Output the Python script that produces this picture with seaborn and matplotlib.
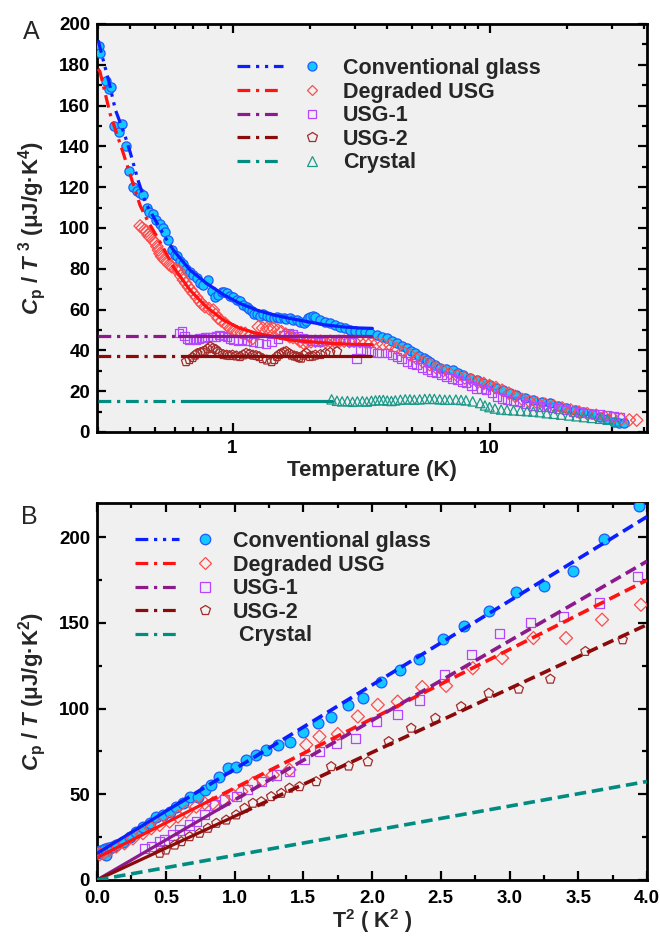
import matplotlib
matplotlib.use('Agg')
import matplotlib.pyplot as plt
import seaborn as sns
from matplotlib.lines import Line2D
from matplotlib.legend_handler import HandlerTuple
from matplotlib.ticker import FixedLocator, FuncFormatter, NullFormatter, MultipleLocator, LogLocator

# ---------------- Panel A data: Cp/T^3 vs T ----------------
conv_T = [0.303, 0.306, 0.322, 0.330, 0.337, 0.345, 0.362, 0.370, 0.386, 0.397, 0.409, 0.425, 0.436, 0.45,
          0.463, 0.475, 0.49, 0.505, 0.522, 0.535, 0.546, 0.563, 0.58, 0.595, 0.607, 0.625, 0.644, 0.66,
          0.683, 0.70, 0.725, 0.747, 0.77, 0.805, 0.83, 0.855, 0.88, 0.908, 0.93, 0.95, 0.98, 1.007, 1.04,
          1.07, 1.10, 1.136, 1.16, 1.19, 1.215, 1.24, 1.28, 1.32, 1.36, 1.4, 1.45, 1.49, 1.53, 1.58, 1.62,
          1.67, 1.72, 1.78, 1.83, 1.89, 1.94, 1.97, 2.0, 2.05, 2.1, 2.19, 2.29, 2.39, 2.5, 2.62, 2.74, 2.86,
          3.0, 3.13, 3.28, 3.43, 3.64, 3.8, 3.98, 4.17, 4.36, 4.56, 4.77, 4.95, 5.13, 5.33, 5.54, 5.7, 5.87,
          6.15, 6.42, 6.8, 7.23, 7.55, 7.92, 8.4, 8.93, 9.45, 10.0, 10.6, 11.3, 12.0, 12.7, 13.7, 14.8, 16.0,
          17.2, 18.5, 19.9, 21.5, 23.2, 25.0, 26.9, 28.6, 30.4, 32.0, 33.3]
conv_A = [189, 186, 172, 168, 169, 150, 147, 151, 140, 128, 120, 118, 117, 116,
          110, 108, 107, 104, 102, 100, 98, 94, 89, 87, 86.5, 84, 82.5, 80,
          78.5, 77, 75.3, 73, 72, 74.5, 69, 66.3, 67, 68.8, 68.5, 68, 66.5, 66.3, 64.5,
          64, 62.5, 61.4, 60.5, 59.2, 58, 57.6, 57, 58, 57, 56.5, 56, 56.5, 56, 55.7, 55.5,
          55.7, 55, 54.9, 54, 53.3, 54.5, 55.7, 56.5, 57, 56.5, 54.9, 54, 53.3, 52.5, 51.6, 50.8, 50,
          49.5, 49.2, 49, 48.4, 47.5, 46.8, 45.9, 44.8, 43.5, 42.2, 41, 39.8, 38.6, 37.3, 36.1, 35.2, 34.5,
          33, 31.2, 30.8, 30.4, 29, 27.9, 26.7, 25.5, 24.2, 23, 21.8, 20.6, 19.3, 18.1, 16.9, 15.7, 14.8,
          14.1, 12.8, 11.6, 10.8, 10, 8.8, 7.5, 6.2, 5, 4.5, 4.2]

deg_T = [0.437, 0.445, 0.455, 0.463, 0.47, 0.477, 0.49, 0.5, 0.508, 0.515, 0.522, 0.53, 0.542, 0.555,
         0.567, 0.58, 0.598, 0.616, 0.63, 0.644, 0.658, 0.673, 0.69, 0.704, 0.725, 0.747, 0.763, 0.78,
         0.81, 0.842, 0.86, 0.88, 0.905, 0.935, 0.955, 0.978, 1.01, 1.04, 1.08, 1.12, 1.16, 1.2, 1.26,
         1.31, 1.36, 1.4, 1.44, 1.5, 1.55, 1.61, 1.67, 1.72, 1.78, 1.83, 1.89, 1.95, 2.02, 2.1, 2.2, 2.3,
         2.4, 2.5, 2.6, 2.72, 2.85, 2.97, 3.13, 3.3, 3.45, 3.64, 3.85, 4.1, 4.35, 4.6, 4.9, 5.2, 5.5,
         5.85, 6.2, 6.6, 7.0, 7.5, 8.0, 8.5, 9.0, 9.5, 10.0, 10.6, 11.2, 11.9, 12.6, 13.4, 14.3, 15.3,
         16.5, 17.8, 19.2, 20.7, 22.3, 24.0, 26.0, 28.0, 30.2, 32.5, 35.0, 37.4]
deg_A = [101, 100, 99, 98.4, 96.5, 95.7, 94, 92.7, 91, 89.2, 87.5, 86, 84.5, 83.5,
         82, 81, 80, 79.4, 76.5, 74.5, 73, 71.2, 69.5, 68, 66, 63.9, 62.5, 61.4,
         60.5, 59.8, 57.5, 55.7, 54.5, 53.3, 52, 50.8, 50, 49.2, 48.8, 48.4, 47, 45.9, 51.6,
         51, 50.8, 50.5, 50.8, 50, 49.2, 48, 46.7, 46.3, 45.9, 44.5, 43.5, 44, 44.2, 44.5, 44.5, 44.2,
         44.5, 44.2, 44.4, 44.5, 44.3, 44.5, 44.3, 44, 43.8, 43.5, 43, 42.6, 41, 39.5, 37.8, 36, 34.5,
         33, 31.5, 30, 28.8, 27.5, 26.5, 25.5, 24.5, 23.8, 22.8, 21.8, 20.5, 19, 17.5, 16, 15, 14.3,
         13.6, 12.8, 11.8, 10.8, 9.8, 9, 8.2, 7.5, 6.8, 6.3, 5.9, 5.8]

usg1_T = [0.62, 0.635, 0.65, 0.665, 0.68, 0.7, 0.72, 0.74, 0.76, 0.78, 0.8, 0.83, 0.86, 0.89, 0.92,
          0.95, 0.98, 1.01, 1.05, 1.09, 1.14, 1.2, 1.27, 1.35, 1.42, 1.5, 1.58, 1.65, 1.72, 1.8, 1.88,
          1.95, 2.05, 2.15, 2.25, 2.38, 2.5, 2.62, 2.75, 2.9, 3.04, 3.15, 3.3, 3.45, 3.64, 3.8, 3.98,
          4.17, 4.36, 4.55, 4.77, 4.98, 5.2, 5.45, 5.7, 5.95, 6.2, 6.5, 6.8, 7.15, 7.5, 7.8, 8.1, 8.5,
          8.9, 9.3, 9.7, 10.2, 10.7, 11.2, 11.7, 12.4, 13.1, 13.9, 14.8, 15.7, 16.6, 17.5, 18.5, 19.8,
          21.2, 22.5, 23.9, 25.4, 26.9, 28.6, 30.4, 32.0]
usg1_A = [48.4, 49.5, 47, 45.7, 45.2, 45.5, 45.2, 45.8, 46, 46.3, 46.5, 46.5, 46.8, 47.5, 47.2,
          46.5, 45.5, 45, 44.8, 45, 44.5, 44.2, 43.5, 43.2, 44, 45.5, 47.5, 48.5, 48, 47, 46,
          45.5, 44.5, 44.2, 44.8, 45, 44.5, 45.5, 45, 44, 36, 40.2, 40, 39.5, 38.6, 38.6, 38.6,
          37.8, 36.9, 35.8, 34.5, 33.6, 32.8, 31.6, 30.4, 29.6, 28.8, 28, 27.1, 26.3, 25.5, 24.7, 23.9, 22.6,
          21.4, 21, 20.6, 19, 17.3, 16.5, 15.7, 15.2, 14.9, 13.8, 12.7, 12.5, 12.3, 12, 11.6, 10.8,
          10, 9.6, 9.2, 8.8, 8.5, 8.1, 7.8, 7.5]

usg2_T = [0.66, 0.68, 0.7, 0.715, 0.73, 0.75, 0.765, 0.78, 0.8, 0.82, 0.84, 0.86, 0.875, 0.89, 0.92,
          0.95, 0.975, 1.0, 1.035, 1.07, 1.1, 1.13, 1.165, 1.2, 1.235, 1.27, 1.31, 1.36, 1.42, 1.455,
          1.49, 1.52, 1.55, 1.585, 1.62, 1.66, 1.7, 1.74, 1.78, 1.815, 1.85, 1.89, 1.94, 2.0, 2.05, 2.1,
          2.2, 2.3, 2.4, 2.55]
usg2_A = [34.5, 35.5, 36.5, 37.7, 38.5, 39, 39.3, 39.7, 40.8, 41.8, 41, 40.5, 39.5, 38.6, 38,
          37.7, 37.5, 37.7, 37.3, 37, 37.8, 38.6, 38.2, 37.7, 37.5, 37, 36, 35.3, 34.5, 35.5,
          37, 38, 38.6, 39.2, 39.5, 38.5, 37.7, 37.3, 37, 36.5, 36.2, 37.7, 38.6, 37, 37.2, 37.7,
          38, 38.6, 39, 39.4]

cry_T = [2.43, 2.55, 2.67, 2.8, 2.93, 3.06, 3.2, 3.33, 3.47, 3.6, 3.73, 3.86, 4.0, 4.15, 4.3, 4.5,
         4.7, 4.9, 5.1, 5.35, 5.6, 5.85, 6.1, 6.4, 6.7, 7.0, 7.4, 7.75, 8.1, 8.6, 9.2, 9.6, 10.0, 10.5,
         11.1, 11.7, 12.4, 13.2, 14.0, 14.8, 15.7, 16.7, 17.8, 19.0, 20.4, 21.8, 23.3, 25.0, 26.9,
         28.8, 31.0]
cry_A = [16, 15.3, 15, 15.2, 14.8, 15, 15.1, 14.9, 15.3, 15.5, 15.6, 15.7, 15.4, 15.2, 15.5, 15.8,
         16, 16, 15.8, 16, 16.2, 16.3, 16.2, 16, 15.8, 15.8, 15.9, 15.7, 15.5, 15, 14.2, 13, 12.2, 11.5,
         11, 10.8, 10.6, 10.4, 10.2, 10, 9.7, 9.2, 8.9, 8.5, 8.1, 7.7, 7.3, 6.9, 6.5,
         6, 5.2]

# fit curves of panel A (extrapolated part / fitted part)
conv_fitA_ext_T = [0.3, 0.31, 0.33, 0.35, 0.38, 0.4, 0.43, 0.46, 0.5, 0.55, 0.59]
conv_fitA_ext_v = [192, 185, 172, 158, 146, 137, 123, 112, 104, 95, 89]
conv_fitA_T = [0.59, 0.683, 0.79, 0.92, 1.07, 1.24, 1.44, 1.67, 1.97, 2.3, 2.7, 3.1, 3.5]
conv_fitA_v = [89, 79.4, 73, 67.4, 63, 59.8, 57.4, 55.7, 54, 52.5, 51.5, 51, 50.8]
deg_fitA_ext_T = [0.3, 0.305, 0.334, 0.376, 0.418, 0.437, 0.47, 0.507, 0.55, 0.588]
deg_fitA_ext_v = [178, 176.6, 156, 136.6, 118.6, 111, 103, 96, 88, 81]
deg_fitA_T = [0.588, 0.683, 0.79, 0.92, 1.07, 1.24, 1.44, 1.67, 1.97, 2.4, 2.9, 3.5]
deg_fitA_v = [81, 69.6, 61.4, 54.9, 50.8, 48.4, 46.7, 45.1, 44.3, 43.5, 43, 42.8]
usg1_fitA_ext_T, usg1_fitA_ext_v = [0.3, 0.62], [47.0, 47.0]
usg1_fitA_T, usg1_fitA_v = [0.62, 3.47], [47.0, 47.0]
usg2_fitA_ext_T, usg2_fitA_ext_v = [0.3, 0.66], [37.5, 37.5]
usg2_fitA_T, usg2_fitA_v = [0.66, 3.47], [37.5, 37.5]
cry_fitA_ext_T, cry_fitA_ext_v = [0.3, 0.66], [15.3, 15.3]
cry_fitA_T, cry_fitA_v = [0.66, 2.43], [15.3, 15.3]

# ---------------- Panel B data: Cp/T vs T^2 ----------------
conv_T2 = [0.01, 0.02, 0.03, 0.044, 0.055, 0.068, 0.08, 0.092, 0.11, 0.14, 0.19, 0.24, 0.286, 0.334,
           0.383, 0.43, 0.48, 0.53, 0.577, 0.625, 0.674, 0.734, 0.783, 0.83, 0.89, 0.952, 1.013, 1.086,
           1.158, 1.23, 1.315, 1.40, 1.497, 1.606, 1.70, 1.824, 1.933, 2.067, 2.2, 2.345, 2.515, 2.672,
           2.854, 3.048, 3.249, 3.46, 3.69, 3.944]
conv_B = [16.5, 17, 16, 17.5, 17.8, 14.6, 18.5, 18.5, 19.5, 20.4, 22.4, 25.3, 28.2, 31.1,
          33.1, 37, 38, 39.9, 42.8, 44.8, 48.7, 48.7, 52.6, 55.5, 60.3, 65.2, 66.2, 70.1,
          73, 75.9, 78.9, 80.8, 86.6, 91.5, 95.4, 102.2, 106.1, 115.8, 122.7, 128.9, 140.6, 148,
          157.1, 167.8, 171.3, 180.1, 199, 218]
deg_T2 = [0.02, 0.05, 0.092, 0.14, 0.2, 0.262, 0.334, 0.395, 0.456, 0.528, 0.589, 0.65, 0.722, 0.783,
          0.843, 0.916, 0.988, 1.05, 1.134, 1.206, 1.279, 1.40, 1.522, 1.618, 1.751, 1.897, 2.042, 2.187,
          2.365, 2.539, 2.733, 2.946, 3.174, 3.411, 3.673, 3.956]
deg_B = [15, 15.5, 17.5, 19.5, 21.4, 24.3, 27.3, 30.2, 32.1, 34.1, 37, 39.9, 42.8, 44.8,
         44.8, 46.7, 49.6, 51.6, 56.5, 58.4, 61.3, 64.3, 78.9, 83.7, 85.2, 95.4, 102.2, 104.1,
         112.6, 113.3, 123.6, 129.5, 141.2, 141.2, 151.9, 160.6]
usg1_T2 = [0.347, 0.395, 0.456, 0.49, 0.552, 0.6, 0.674, 0.722, 0.783, 0.855, 0.928, 1.013, 1.097, 1.195,
           1.304, 1.40, 1.509, 1.618, 1.744, 1.88, 2.03, 2.183, 2.345, 2.527, 2.721, 2.927, 3.15, 3.394,
           3.653, 3.932]
usg1_B = [18.5, 19.5, 22.4, 23.3, 26.3, 29.2, 32.1, 34.1, 38, 43.8, 46.7, 48.7, 52.6, 57.4,
          61.3, 63.3, 70.1, 74.9, 79.8, 82.7, 92.5, 96.4, 105.1, 120.1, 131.4, 143.7, 150.3, 153.8,
          161.6, 177.2]
usg2_T2 = [0.456, 0.5, 0.565, 0.613, 0.674, 0.746, 0.807, 0.868, 0.94, 1.013, 1.073, 1.134, 1.195, 1.267,
           1.34, 1.40, 1.473, 1.594, 1.703, 1.83, 1.97, 2.122, 2.285, 2.461, 2.648, 2.849, 3.067, 3.297,
           3.552, 3.823]
usg2_B = [15.6, 17.5, 20.4, 22.4, 25.3, 27.3, 30.2, 33.1, 35, 38, 41.9, 44.8, 45.7, 48.7,
          50.6, 53.6, 54.5, 57.4, 66.2, 66.5, 69, 80.8, 88.6, 94.4, 101.2, 109, 111.4, 117.2,
          133.4, 140.2]

# straight fits of panel B: [start, end of fitted range, end of axis]
conv_fitB_x, conv_fitB_y = [0.0, 0.6, 4.0], [15.5, 45.0, 212.0]
deg_fitB_x, deg_fitB_y = [0.0, 0.8, 4.0], [13.0, 45.5, 175.0]
usg1_fitB_x, usg1_fitB_y = [0.0, 0.9, 4.0], [0.0, 42.0, 186.0]
usg2_fitB_x, usg2_fitB_y = [0.0, 1.05, 4.0], [0.0, 39.0, 149.0]
cry_fitB_x, cry_fitB_y = [0.0, 4.0], [0.0, 57.5]

labels = ['Conventional glass', 'Degraded USG', 'USG-1', 'USG-2', 'Crystal']

# ---------------- style ----------------
sns.set_style('ticks')
plt.rcParams['font.family'] = ['Liberation Sans', 'DejaVu Sans']
plt.rcParams['font.weight'] = 'bold'
plt.rcParams['mathtext.fontset'] = 'custom'
plt.rcParams['mathtext.rm'] = 'Liberation Sans:bold'
plt.rcParams['mathtext.it'] = 'Liberation Sans:italic:bold'
plt.rcParams['mathtext.bf'] = 'Liberation Sans:bold'

LC = ['#0a1eff', '#ff1212', '#8c1a8c', '#8b0a0a', '#008c80']   # line colours
MF = ['#12c8ff', 'none', 'none', 'none', 'none']             # marker faces
ME = ['#1f5aff', '#ff4c4c', '#b347ff', '#a52a2a', '#1a9988']  # marker edges
MK = ['o', 'D', 's', 'p', '^']
DD = (0, (4, 1.8, 1, 1.8, 1, 1.8))   # dash-dot-dot
DA = (0, (4, 1.8, 1, 1.8))           # dash-dot
SD = (0, (3.2, 1.6))                 # short dash
STY = [DD, DA, DA, DA, DA]

W, H = 660, 942
fig = plt.figure(figsize=(W / 100, H / 100), dpi=100)
axA = fig.add_axes([97 / W, 1 - 432 / H, 550 / W, 408 / H])
axB = fig.add_axes([97 / W, 1 - 880 / H, 550 / W, 377 / H])


def scat(ax, x, y, i, s, lw=0.9):
    sns.scatterplot(x=x, y=y, ax=ax, marker=MK[i], s=s, color=ME[i], edgecolor=ME[i],
                    linewidth=lw, legend=False, zorder=3)
    c = ax.collections[-1]
    c.set_facecolor(MF[i])
    c.set_edgecolor(ME[i])
    c.set_linewidth(lw)


def line(ax, x, y, i, ls, lw=2.3, z=4):
    sns.lineplot(x=x, y=y, ax=ax, color=LC[i], linewidth=lw, linestyle=ls, zorder=z,
                 legend=False, estimator=None, sort=False)


def style_axes(ax):
    ax.set_facecolor('#f0f0f0')
    for sp in ax.spines.values():
        sp.set_linewidth(2.0)
        sp.set_color('black')
        sp.set_visible(True)
    ax.tick_params(which='both', direction='in', top=True, right=True, width=1.6,
                   labelsize=13.5, pad=5, colors='black')
    ax.tick_params(which='major', length=6.5)
    ax.tick_params(which='minor', length=3.5)


# ---------------- Panel A ----------------
style_axes(axA)
A_sets = [(conv_T, conv_A, 44), (deg_T, deg_A, 40), (usg1_T, usg1_A, 36), (usg2_T, usg2_A, 50),
          (cry_T, cry_A, 45)]
for i, (x, y, s) in enumerate(A_sets):
    scat(axA, x, y, i, s)
A_fits = [(conv_fitA_ext_T, conv_fitA_ext_v, conv_fitA_T, conv_fitA_v),
          (deg_fitA_ext_T, deg_fitA_ext_v, deg_fitA_T, deg_fitA_v),
          (usg1_fitA_ext_T, usg1_fitA_ext_v, usg1_fitA_T, usg1_fitA_v),
          (usg2_fitA_ext_T, usg2_fitA_ext_v, usg2_fitA_T, usg2_fitA_v),
          (cry_fitA_ext_T, cry_fitA_ext_v, cry_fitA_T, cry_fitA_v)]
for i, (xe, ye, xf, yf) in enumerate(A_fits):
    line(axA, xe, ye, i, STY[i])
    line(axA, xf, yf, i, '-')
axA.set_xscale('log')
axA.set_xlim(0.297, 41)
axA.set_ylim(0, 200)
axA.xaxis.set_major_locator(FixedLocator([0.1, 1, 10, 100]))
axA.xaxis.set_major_formatter(FuncFormatter(lambda v, p: f'{v:g}'))
axA.xaxis.set_minor_locator(LogLocator(base=10, subs=[2, 3, 4, 5, 6, 7, 8, 9], numticks=20))
axA.xaxis.set_minor_formatter(NullFormatter())
axA.yaxis.set_major_locator(MultipleLocator(20))
axA.yaxis.set_minor_locator(MultipleLocator(10))
axA.tick_params(axis='x', which='both', pad=6)
axA.set_xlabel('Temperature (K)', fontsize=16, fontweight='bold', labelpad=2)
axA.set_ylabel(r'$C_{\mathrm{p}}$ / $T^{\ 3}$ (μJ/g·K$^{4}$)', fontsize=16, fontweight='bold', labelpad=8)

hA = []
msA = [6.5, 5.5, 6.2, 7.0, 6.5]
for i in range(5):
    ln = Line2D([], [], color=LC[i], lw=2.3, linestyle=STY[i])
    mk = Line2D([], [], linestyle='none', marker=MK[i], ms=msA[i], mfc=MF[i], mec=ME[i], mew=0.9)
    hA.append((ln, mk))
axA.legend(hA, labels, loc='upper left', bbox_to_anchor=(0.2545, 0.9167), frameon=False,
           handlelength=4.56, handletextpad=0.37, labelspacing=0.12, borderpad=0, borderaxespad=0,
           prop={'size': 15.5, 'weight': 'bold'},
           handler_map={tuple: HandlerTuple(ndivide=None, pad=0.28)})

# ---------------- Panel B ----------------
style_axes(axB)
B_sets = [(conv_T2, conv_B, 60), (deg_T2, deg_B, 44), (usg1_T2, usg1_B, 44), (usg2_T2, usg2_B, 50)]
for i, (x, y, s) in enumerate(B_sets):
    scat(axB, x, y, i, s)
B_fits = [(conv_fitB_x, conv_fitB_y), (deg_fitB_x, deg_fitB_y), (usg1_fitB_x, usg1_fitB_y),
          (usg2_fitB_x, usg2_fitB_y)]
for i, (x, y) in enumerate(B_fits):
    line(axB, x[:2], y[:2], i, '-', lw=2.3)
    line(axB, x[1:], y[1:], i, SD, lw=2.6)
line(axB, cry_fitB_x, cry_fitB_y, 4, SD, lw=2.6)
axB.set_xlim(0, 4)
axB.set_ylim(0, 220)
axB.xaxis.set_major_locator(MultipleLocator(0.5))
axB.xaxis.set_minor_locator(MultipleLocator(0.25))
axB.xaxis.set_major_formatter(FuncFormatter(lambda v, p: f'{v:.1f}'))
axB.yaxis.set_major_locator(MultipleLocator(50))
axB.yaxis.set_minor_locator(MultipleLocator(25))
axB.tick_params(axis='x', which='both', pad=7)
axB.set_xlabel(r'T$^{2}$ ( K$^{2}$ )', fontsize=15.5, fontweight='bold', labelpad=0.5)
axB.set_ylabel(r'$C_{\mathrm{p}}$ / $T$ (μJ/g·K$^{2}$)', fontsize=16, fontweight='bold', labelpad=8)

hB = []
msB = [7.5, 6.5, 6.5, 7.2, 0]
labelsB = labels[:4] + [' Crystal']
for i in range(5):
    ln = Line2D([], [], color=LC[i], lw=2.3, linestyle=STY[i])
    mk = Line2D([], [], linestyle='none', marker=(MK[i] if i < 4 else None), ms=msB[i],
                mfc=MF[i], mec=ME[i], mew=0.9)
    hB.append((ln, mk))
axB.legend(hB, labelsB, loc='upper left', bbox_to_anchor=(0.069, 0.9257), frameon=False,
           handlelength=4.28, handletextpad=0.27, labelspacing=0.12, borderpad=0, borderaxespad=0,
           prop={'size': 15.5, 'weight': 'bold'},
           handler_map={tuple: HandlerTuple(ndivide=None, pad=0.19)})

fig.text(31 / W, 1 - 32 / H, 'A', fontsize=18, fontweight='normal', ha='center', va='center')
fig.text(29 / W, 1 - 517 / H, 'B', fontsize=18, fontweight='normal', ha='center', va='center')

fig.savefig('out.png', dpi=100, facecolor='white')
